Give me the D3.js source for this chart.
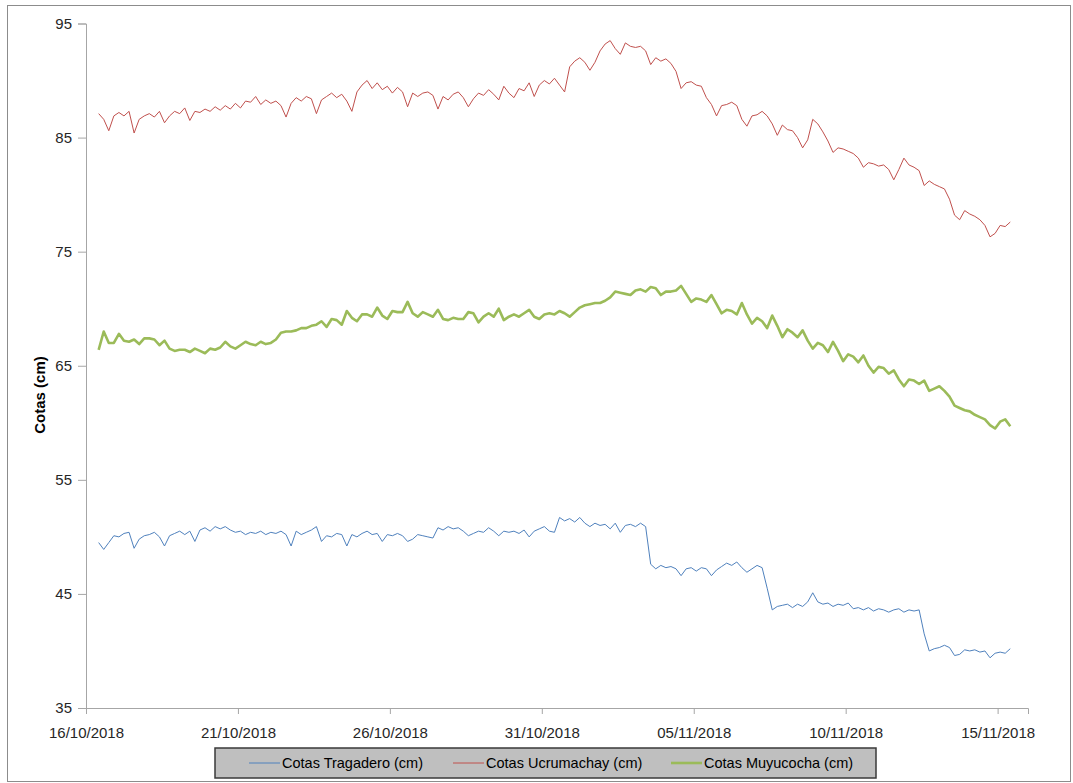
<!DOCTYPE html>
<html>
<head>
<meta charset="utf-8">
<script src="https://cdn.jsdelivr.net/npm/d3@7"></script>
<style>
  body { margin: 0; background: #fff; }
  svg text { font-family: "Liberation Sans", Arial, sans-serif; }
</style>
</head>
<body>
<div id="chart"></div>
<script>
// readings every 4 hours from 16/10/2018 10:00
var startTime = "2018-10-16 10:00";
var stepHours = 4;

var tragadero = [
  49.5,48.9,49.5,50.1,50.0,50.3,50.4,49.0,49.8,50.1,
  50.2,50.4,50.0,49.2,50.1,50.3,50.5,50.2,50.5,49.6,
  50.6,50.8,50.5,50.9,50.7,50.9,50.6,50.4,50.5,50.2,
  50.4,50.3,50.5,50.2,50.4,50.3,50.5,50.2,49.2,50.5,
  50.2,50.4,50.6,50.9,49.6,50.1,50.0,50.3,50.2,49.2,
  50.2,50.0,50.3,50.5,50.2,50.3,49.6,50.2,50.1,50.3,
  50.1,49.6,49.8,50.2,50.1,50.0,49.9,50.8,50.6,50.9,
  50.7,50.8,50.5,50.1,50.3,50.5,50.4,50.8,50.5,50.1,
  50.5,50.4,50.5,50.3,50.6,50.0,50.5,50.7,50.9,50.5,
  50.4,51.7,51.4,51.6,51.3,51.7,51.2,50.9,51.2,51.0,
  51.1,50.7,51.2,50.4,51.0,51.1,50.9,51.2,50.9,47.6,
  47.2,47.5,47.3,47.4,47.2,46.6,47.2,47.3,47.0,47.3,
  47.2,46.6,47.1,47.4,47.7,47.5,47.8,47.3,46.9,47.2,
  47.5,47.3,45.5,43.6,43.9,44.0,44.1,43.8,44.1,43.9,
  44.3,45.1,44.3,44.1,44.2,43.9,44.1,44.0,44.2,43.7,
  43.8,43.6,43.8,43.5,43.7,43.6,43.4,43.6,43.7,43.4,
  43.6,43.5,43.6,41.5,40.0,40.2,40.3,40.5,40.3,39.6,
  39.7,40.1,40.0,40.1,39.9,40.0,39.4,39.8,39.9,39.8,40.2
];

var ucrumachay = [
  87.1,86.6,85.6,86.9,87.2,86.9,87.3,85.4,86.6,86.9,
  87.1,86.8,87.3,86.3,86.9,87.3,87.1,87.6,86.5,87.3,
  87.2,87.5,87.3,87.7,87.4,87.8,87.5,88.0,87.6,88.2,
  88.1,88.6,87.9,88.3,88.0,88.2,87.8,86.8,88.0,88.5,
  88.2,88.6,88.4,87.1,88.3,88.6,88.9,88.5,88.8,88.2,
  87.3,89.0,89.6,90.0,89.3,89.8,89.2,89.5,88.9,89.4,
  89.0,87.7,88.9,88.6,88.9,89.0,88.7,87.5,88.6,88.3,
  88.8,89.0,88.5,87.7,88.4,88.9,88.7,89.2,88.8,88.3,
  89.5,88.9,88.5,89.3,89.1,89.8,88.6,89.6,90.0,89.7,
  90.2,89.6,89.0,91.2,91.7,92.0,91.6,90.9,91.6,92.6,
  93.2,93.5,92.8,92.3,93.3,93.0,92.9,93.0,92.6,91.4,
  92.0,91.7,91.9,91.5,90.8,89.3,89.8,89.9,89.6,89.5,
  88.5,87.9,86.9,87.8,87.9,88.1,87.8,86.6,86.0,86.9,
  87.0,87.3,86.9,86.2,85.2,86.1,85.7,85.6,85.0,84.1,
  84.8,86.6,86.2,85.5,84.7,83.7,84.1,84.0,83.8,83.6,
  83.2,82.4,82.8,82.7,82.5,82.6,82.2,81.3,82.2,83.2,
  82.6,82.4,82.1,80.8,81.2,80.9,80.7,80.5,79.6,78.2,
  77.8,78.6,78.3,78.1,77.8,77.3,76.3,76.6,77.3,77.2,77.6
];

var muyucocha = [
  66.4,68.0,67.0,67.0,67.8,67.2,67.1,67.3,66.9,67.4,
  67.4,67.3,66.8,67.2,66.5,66.3,66.4,66.4,66.2,66.5,
  66.3,66.1,66.5,66.4,66.6,67.1,66.7,66.5,66.8,67.1,
  66.9,66.8,67.1,66.9,67.0,67.3,67.9,68.0,68.0,68.1,
  68.3,68.3,68.5,68.6,68.9,68.4,69.1,69.0,68.6,69.8,
  69.2,68.9,69.5,69.5,69.3,70.1,69.4,69.1,69.8,69.7,
  69.7,70.6,69.6,69.3,69.7,69.5,69.3,69.9,69.1,69.0,
  69.2,69.1,69.1,69.7,69.6,68.8,69.3,69.6,69.3,70.0,
  69.0,69.3,69.5,69.3,69.6,69.9,69.3,69.1,69.5,69.6,
  69.5,69.8,69.6,69.3,69.7,70.1,70.3,70.4,70.5,70.5,
  70.7,71.0,71.5,71.4,71.3,71.2,71.6,71.7,71.5,71.9,
  71.8,71.2,71.5,71.5,71.6,72.0,71.3,70.6,70.9,70.8,
  70.6,71.2,70.4,69.6,69.9,69.8,69.5,70.5,69.5,68.7,
  69.2,68.9,68.3,69.4,68.5,67.5,68.2,67.9,67.5,68.1,
  67.2,66.5,67.0,66.8,66.2,67.1,66.3,65.4,66.0,65.8,
  65.3,65.9,65.0,64.4,64.9,64.8,64.3,64.6,63.8,63.2,
  63.8,63.7,63.4,63.7,62.8,63.0,63.2,62.8,62.3,61.5,
  61.3,61.1,61.0,60.7,60.5,60.3,59.8,59.5,60.1,60.3,59.7
];

var seriesNames = ["Cotas Tragadero (cm)", "Cotas Ucrumachay (cm)", "Cotas Muyucocha (cm)"];
var seriesColors = ["#4f81bd", "#c0504d", "#9bbb59"];
var seriesWidths = [1, 1, 2.6];
var xTickLabels = ["2018-10-16", "2018-10-21", "2018-10-26", "2018-10-31", "2018-11-05", "2018-11-10", "2018-11-15"];
var yTicks = [35, 45, 55, 65, 75, 85, 95];

var width = 1073, height = 783;
var parseTime = d3.timeParse("%Y-%m-%d %H:%M");
var parseDay = d3.timeParse("%Y-%m-%d");
var t0 = parseTime(startTime);

var svg = d3.select("#chart").append("svg")
  .attr("width", width)
  .attr("height", height);

// outer chart border
svg.append("rect")
  .attr("x", 7.5).attr("y", 5.5)
  .attr("width", 1063).attr("height", 776)
  .attr("fill", "#fff")
  .attr("stroke", "#8c8c8c");

var x = d3.scaleTime()
  .domain([parseDay("2018-10-16"), parseDay("2018-11-16")])
  .range([86, 1028]);
var y = d3.scaleLinear().domain([35, 95]).range([708, 23.5]);

var xAxis = svg.append("g")
  .attr("transform", "translate(0,708)")
  .call(d3.axisBottom(x)
    .tickValues(xTickLabels.map(parseDay))
    .tickFormat(d3.timeFormat("%d/%m/%Y"))
    .tickSize(6).tickPadding(10));
var yAxis = svg.append("g")
  .attr("transform", "translate(86,0)")
  .call(d3.axisLeft(y).tickValues(yTicks).tickSize(8).tickPadding(6).tickFormat(d3.format("d")));

[xAxis, yAxis].forEach(function (g) {
  g.select(".domain").attr("stroke", "#a6a6a6");
  g.selectAll(".tick line").attr("stroke", "#a6a6a6");
  g.selectAll(".tick text").attr("fill", "#262626").style("font-size", "15px");
});
xAxis.selectAll(".tick text").attr("dy", "0.9em");

svg.append("text")
  .attr("transform", "translate(45,395) rotate(-90)")
  .attr("text-anchor", "middle")
  .style("font-size", "15px")
  .style("font-weight", "bold")
  .attr("fill", "#000")
  .text("Cotas (cm)");

var allSeries = [tragadero, ucrumachay, muyucocha];
var line = d3.line()
  .x(function (d, i) { return x(d3.timeHour.offset(t0, i * stepHours)); })
  .y(function (d) { return y(d); });

// draw order: blue, red, green
allSeries.forEach(function (vals, k) {
  svg.append("path")
    .datum(vals)
    .attr("fill", "none")
    .attr("stroke", seriesColors[k])
    .attr("stroke-width", seriesWidths[k])
    .attr("stroke-linejoin", "round")
    .attr("d", line);
});

// legend
var legend = svg.append("g");
legend.append("rect")
  .attr("x", 215).attr("y", 748)
  .attr("width", 661).attr("height", 30)
  .attr("fill", "#bfbfbf")
  .attr("stroke", "#3a3a3a")
  .attr("stroke-width", 1.5);

var legendX = [249, 453, 671];
var item = legend.selectAll(".item")
  .data(seriesNames)
  .enter().append("g")
  .attr("transform", function (d, i) { return "translate(" + legendX[i] + ",763)"; });
item.append("line")
  .attr("x1", 0).attr("x2", 31)
  .attr("stroke", function (d, i) { return seriesColors[i]; })
  .attr("stroke-width", function (d, i) { return seriesWidths[i]; });
item.append("text")
  .attr("x", 33).attr("dy", "0.35em")
  .style("font-size", "14.5px")
  .attr("fill", "#000")
  .text(function (d) { return d; });
</script>
</body>
</html>
